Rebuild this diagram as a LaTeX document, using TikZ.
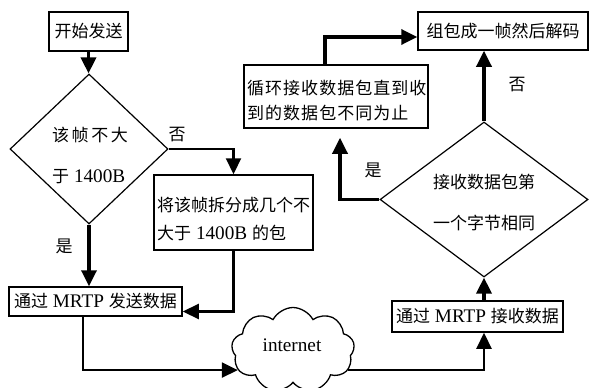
\documentclass[tikz,border=0pt]{standalone}
\usepackage{fontspec}
\setmainfont{Liberation Serif}[Scale=1.13]
\newfontfamily\cjk{Noto Sans CJK SC}
\newfontfamily\cjkwide[LetterSpace=15]{Noto Sans CJK SC}
\newfontfamily\cjkloose[LetterSpace=6]{Noto Sans CJK SC}
\usetikzlibrary{arrows.meta,shapes.geometric,shapes.symbols}

\tikzset{
  box/.style={draw,line width=1.5pt,inner sep=0pt},
  decision/.style={draw,diamond,line width=1.2pt,inner sep=0pt},
  link/.style={line width=2.2pt,-{Triangle[length=16pt,width=15pt]}},
  heavy/.style={link,line width=3.4pt},
  words/.style={inner sep=0pt,align=left},
  tag/.style={inner sep=0pt,font=\fontsize{17}{20}\selectfont\cjk},
}

\begin{document}
\begin{tikzpicture}[x=1pt,y=-1pt,font=\fontsize{17}{20}\selectfont]
  \useasboundingbox (0,0) rectangle (589,388);
  \clip (0,0) rectangle (589,388);

  % sender side
  \node[box,minimum width=79pt,minimum height=39pt] (start) at (88.5,31.5) {\cjk 开始发送};
  \node[decision,minimum width=158pt,minimum height=150pt] (size) at (89,149) {};
  \node[words,anchor=west] (sizetxt) at (52,155.5)
    {{\cjkwide 该帧不大}\\[21pt]{\cjk 于} 1400B};
  \node[box,minimum width=159pt,minimum height=75pt] (split) at (233.5,212.5) {};
  \node[words,anchor=west] (splittxt) at (157,219)
    {{\cjk 将该帧拆分成几个不}\\[8pt]{\cjk 大于} 1400B {\cjk 的包}};
  \node[box,minimum width=173pt,minimum height=29pt] (send) at (95.5,301.5)
    {{\cjk 通过} MRTP {\cjk 发送数据}};

  % network
  \node[cloud,draw,line width=1.3pt,cloud puffs=9,cloud puff arc=125,aspect=1.45,
        minimum width=123pt,minimum height=85pt,inner sep=0pt] (net) at (293,350) {};
  \node[inner sep=0pt] (nettxt) at (292,345) {internet};

  % receiver side
  \node[box,minimum width=171pt,minimum height=31pt] (recv) at (477.5,316.5)
    {{\cjk 通过} MRTP {\cjk 接收数据}};
  \node[decision,minimum width=208pt,minimum height=155pt] (first) at (484,199.5) {};
  \node[words,anchor=west] (firsttxt) at (433,202.5)
    {{\cjk 接收数据包第}\\[21pt]{\cjk 一个字节相同}};
  \node[box,minimum width=184pt,minimum height=63pt] (loop) at (336,96.5) {};
  \node[words,anchor=west] (looptxt) at (247,100.5)
    {{\cjkloose 循环接收数据包直到收}\\[5pt]{\cjkloose 到的数据包不同为止}};
  \node[box,minimum width=170pt,minimum height=38pt] (decode) at (503,31) {\cjk 组包成一帧然后解码};

  % branch labels
  \node[tag] (no1) at (177,135) {否};
  \node[tag] (yes1) at (64,246) {是};
  \node[tag] (no2) at (517,85) {否};
  \node[tag] (yes2) at (373,170) {是};

  % connectors
  \draw[heavy] (start.south) -- (start.south |- size.north);
  \draw[heavy] (size.south) -- (size.south |- send.north);
  \draw[link] (size.east) -| (split.north);
  \draw[link] (split.south) |- ([yshift=-10pt]send.east);
  \draw[link] ([xshift=-12.5pt]send.south) |- (net.200);
  \draw[link] (net.340) -| (recv.south -| first.south);
  \draw[heavy] (recv.north -| first.south) -- (first.south);
  \draw[heavy] (first.north) -- (first.north |- decode.south);
  \draw[heavy,shorten >=9pt] (first.west) -| ([xshift=4pt]loop.south);
  \draw[heavy] ([xshift=-11pt]loop.north) |- ([yshift=-6pt]decode.west);
\end{tikzpicture}
\end{document}
